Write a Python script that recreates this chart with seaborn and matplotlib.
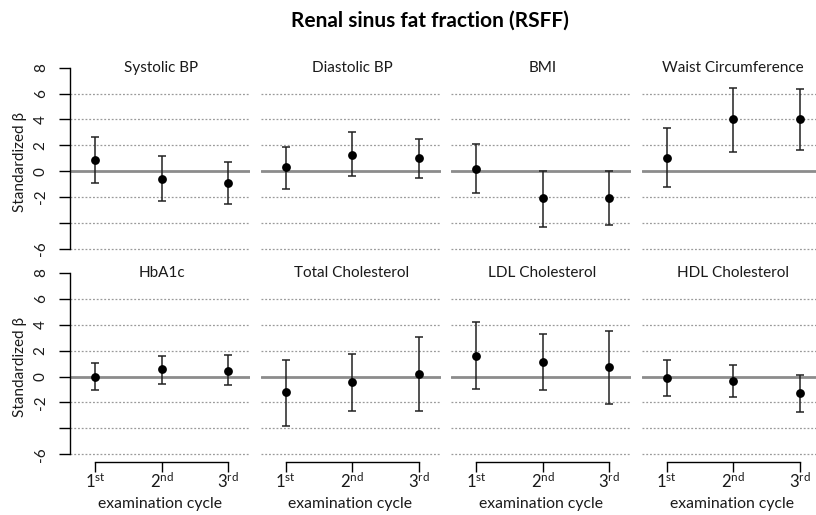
import numpy as np
import pandas as pd
import matplotlib
matplotlib.use("Agg")
import matplotlib.pyplot as plt
import seaborn as sns

# Standardized beta estimates with 95% confidence limits per examination cycle
panels = ["Systolic BP", "Diastolic BP", "BMI", "Waist Circumference",
          "HbA1c", "Total Cholesterol", "LDL Cholesterol", "HDL Cholesterol"]
cycles = [1, 2, 3]
cycle_labels = [r"$1^{\mathrm{st}}$", r"$2^{\mathrm{nd}}$", r"$3^{\mathrm{rd}}$"]

beta = [
    [0.89, -0.59, -0.92],
    [0.31, 1.28, 1.05],
    [0.20, -2.08, -2.07],
    [1.05, 4.05, 4.05],
    [0.00, 0.56, 0.46],
    [-1.23, -0.44, 0.23],
    [1.62, 1.13, 0.72],
    [-0.10, -0.36, -1.26],
]
lower = [
    [-0.92, -2.32, -2.55],
    [-1.40, -0.36, -0.51],
    [-1.66, -4.29, -4.18],
    [-1.22, 1.45, 1.63],
    [-1.00, -0.59, -0.67],
    [-3.82, -2.64, -2.64],
    [-0.95, -1.03, -2.15],
    [-1.51, -1.59, -2.74],
]
upper = [
    [2.68, 1.20, 0.69],
    [1.91, 3.01, 2.50],
    [2.07, 0.03, 0.03],
    [3.32, 6.43, 6.35],
    [1.05, 1.62, 1.67],
    [1.28, 1.77, 3.03],
    [4.18, 3.26, 3.51],
    [1.28, 0.90, 0.13],
]

y_ticks = [8, 6, 4, 2, 0, -2, -4, -6]
y_tick_labels = ["8", "6", "4", "2", "0", "-2", "", "-6"]
grid_levels = [6, 4, 2, -2, -4, -6]

sns.set_theme(style="white")
plt.rcParams["font.family"] = ["Lato", "DejaVu Sans"]
plt.rcParams["mathtext.fontset"] = "custom"
plt.rcParams["mathtext.rm"] = "Lato"
plt.rcParams["mathtext.it"] = "Lato:italic"
plt.rcParams["mathtext.bf"] = "Lato:bold"

W, H = 816, 515
fig = plt.figure(figsize=(W / 100, H / 100), dpi=100)
fig.patch.set_facecolor("white")

TXT = "#1a1a1a"
ax_w = 180
ylo, yhi = -6.62, 8.6
ax_h = 197.1
bottoms_px = [257.0, 462.3]  # pixel row of the lower axes edge for each row

fig.text(430 / W, 1 - 21 / H, "Renal sinus fat fraction (RSFF)",
         ha="center", va="center", fontsize=15, fontweight="bold", color="black")

for i, name in enumerate(panels):
    row, col = divmod(i, 4)
    left_px = 70 + 190.5 * col
    ax = fig.add_axes([left_px / W, 1 - bottoms_px[row] / H, ax_w / W, ax_h / H])
    ax.set_facecolor("white")

    df = pd.DataFrame({"cycle": cycles, "beta": beta[i],
                       "lo": lower[i], "hi": upper[i]})

    for g in grid_levels:
        ax.axhline(g, color="#9a9a9a", lw=0.9, ls=(0, (1.5, 1.5)), zorder=1)
    ax.axhline(0, color="#8c8c8c", lw=2.0, zorder=1)

    ax.errorbar(df["cycle"], df["beta"],
                yerr=[df["beta"] - df["lo"], df["hi"] - df["beta"]],
                fmt="none", ecolor="#222222", elinewidth=1.1,
                capsize=3, capthick=1.1, zorder=2)
    sns.scatterplot(data=df, x="cycle", y="beta", ax=ax, color="black",
                    s=40, edgecolor="black", linewidth=0, zorder=3, legend=False)

    ax.set_xlim(0.624, 3.33)
    ax.set_ylim(ylo, yhi)
    ax.set_xlabel("")
    ax.set_ylabel("")

    ax.text(2, 8, name, ha="center", va="center", fontsize=11, color=TXT)

    for s in ["top", "right"]:
        ax.spines[s].set_visible(False)

    if col == 0:
        ax.spines["left"].set_visible(True)
        ax.spines["left"].set_bounds(-6, 8)
        ax.spines["left"].set_color("black")
        ax.spines["left"].set_linewidth(1.0)
        ax.set_yticks(y_ticks)
        ax.set_yticklabels(y_tick_labels, rotation=90, va="center",
                           fontsize=11, color=TXT)
        ax.tick_params(axis="y", length=8, width=1.0, color="black",
                       pad=8, direction="out", left=True)
        fig.text(20 / W, 1 - (bottoms_px[row] - 95) / H, "Standardized β",
                 rotation=90, ha="center", va="center", fontsize=11, color=TXT)
    else:
        ax.spines["left"].set_visible(False)
        ax.set_yticks([])

    if row == 1:
        ax.spines["bottom"].set_visible(True)
        ax.spines["bottom"].set_bounds(1, 3)
        ax.spines["bottom"].set_color("black")
        ax.spines["bottom"].set_linewidth(1.0)
        ax.set_xticks(cycles)
        ax.set_xticklabels(cycle_labels, fontsize=12, color=TXT)
        ax.tick_params(axis="x", length=7, width=1.0, color="black",
                       pad=0, direction="out", bottom=True)
        fig.text((left_px + 90) / W, 1 - 504 / H, "examination cycle",
                 ha="center", va="center", fontsize=11.3, color=TXT)
    else:
        ax.spines["bottom"].set_visible(False)
        ax.set_xticks([])

fig.savefig("out.png", dpi=100, facecolor="white")
